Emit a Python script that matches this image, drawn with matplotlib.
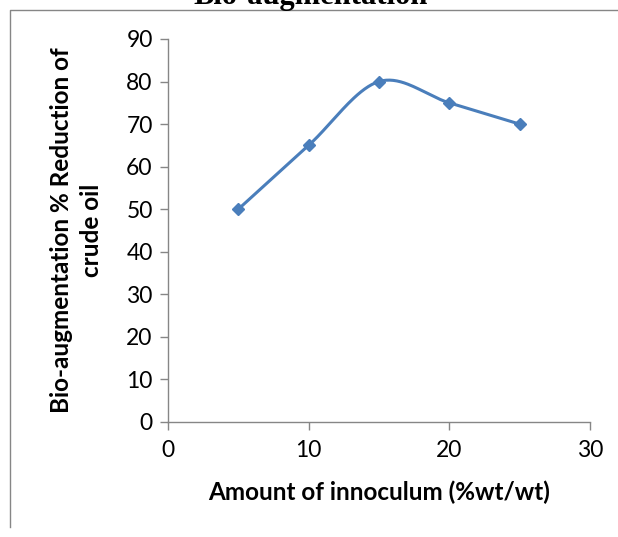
import numpy as np
import matplotlib.pyplot as plt
from matplotlib.lines import Line2D

# Data
inoculum = [5, 10, 15, 20, 25]
reduction = [50, 65, 80, 75, 70]
x_ticks = [0, 10, 20, 30]
y_ticks = [0, 10, 20, 30, 40, 50, 60, 70, 80, 90]

LINE_COLOR = '#4a7ebb'
AXIS_COLOR = '#868686'


def smooth_curve(x, y, n=40):
    """ Excel-like smoothed line (Catmull-Rom through the points) """
    px = np.concatenate(([x[0]], x, [x[-1]]))
    py = np.concatenate(([y[0]], y, [y[-1]]))
    xs, ys = [], []
    t = np.linspace(0, 1, n)
    for i in range(1, len(px) - 2):
        p0 = np.array([px[i], py[i]])
        p3 = np.array([px[i + 1], py[i + 1]])
        c1 = p0 + (p3 - np.array([px[i - 1], py[i - 1]])) / 6
        c2 = p3 - (np.array([px[i + 2], py[i + 2]]) - p0) / 6
        b = ((1 - t) ** 3)[:, None] * p0 + (3 * (1 - t) ** 2 * t)[:, None] * c1 \
            + (3 * (1 - t) * t ** 2)[:, None] * c2 + (t ** 3)[:, None] * p3
        xs.extend(b[:, 0])
        ys.extend(b[:, 1])
    return np.array(xs), np.array(ys)


fig = plt.figure(figsize=(6.18, 5.37), dpi=100)
ax = fig.add_axes([0.2718, 0.2142, 0.6828, 0.7132])

sx, sy = smooth_curve(np.array(inoculum, float), np.array(reduction, float))
ax.plot(sx, sy, '-', color=LINE_COLOR, lw=2.2, zorder=2)
ax.plot(inoculum, reduction, 'D', color=LINE_COLOR, ms=6.5, zorder=3)

ax.set_xlim(0, 30)
ax.set_ylim(0, 90)
ax.set_xticks(x_ticks)
ax.set_yticks(y_ticks)

for s in ['top', 'right']:
    ax.spines[s].set_visible(False)
for s in ['left', 'bottom']:
    ax.spines[s].set_color(AXIS_COLOR)
    ax.spines[s].set_linewidth(1.0)
ax.tick_params(colors=AXIS_COLOR, labelcolor='black', labelsize=16.5,
               direction='out', length=6, width=1.0)
for lbl in ax.get_xticklabels() + ax.get_yticklabels():
    lbl.set_family('Lato')
ax.tick_params(axis='x', pad=7)
ax.tick_params(axis='y', pad=5)

ax.set_xlabel('Amount of innoculum (%wt/wt)', fontsize=17.5, fontweight='bold',
              family='Lato', labelpad=14)
ax.set_ylabel('Bio-augmentation % Reduction of\ncrude oil', fontsize=17.5,
              fontweight='bold', family='Lato', labelpad=17, linespacing=1.35)

# Chart title cut off at the top of the picture
fig.text(311 / 618, (537 - 4) / 537, 'Bio-augmentation', ha='center',
         va='baseline', fontsize=22, fontweight='bold', family='Liberation Serif')

# Outer chart border (left and top edges visible)
fig.add_artist(Line2D([10 / 618, 10 / 618, 1.0],
                      [10 / 537, 527 / 537, 527 / 537],
                      transform=fig.transFigure, color=AXIS_COLOR, lw=1.0))

fig.savefig('out.png', dpi=100)
